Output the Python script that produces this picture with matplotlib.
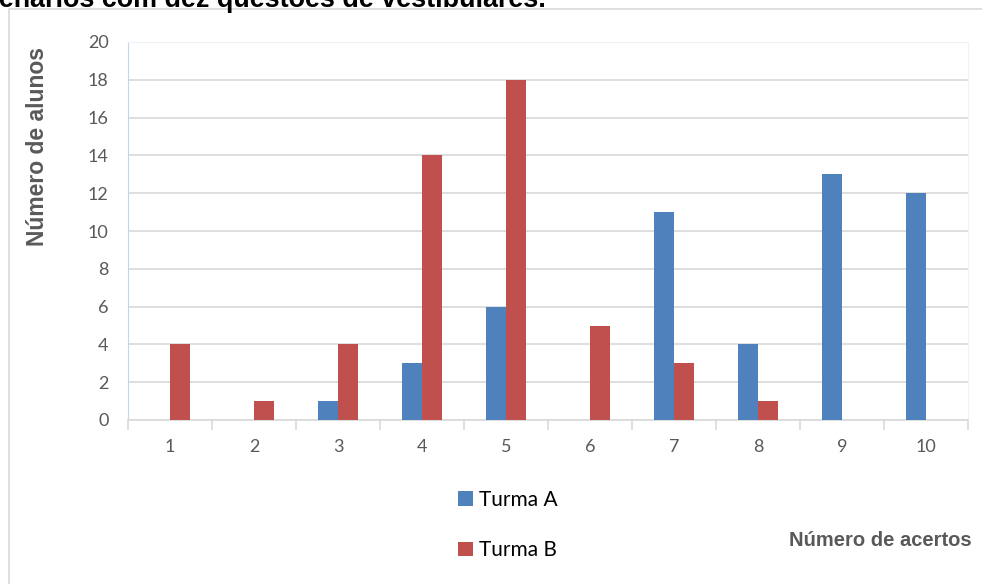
import numpy as np
import matplotlib.pyplot as plt
from matplotlib.patches import Rectangle

# número de acertos (1 a 10) e alunos por turma
acertos = ['1', '2', '3', '4', '5', '6', '7', '8', '9', '10']
turma_a = [0, 0, 1, 3, 6, 0, 11, 4, 13, 12]
turma_b = [4, 1, 4, 14, 18, 5, 3, 1, 0, 0]

cor_a = '#4F81BD'
cor_b = '#C0504D'
cinza = '#595959'

W, H = 982, 584
fig = plt.figure(figsize=(W / 100, H / 100), dpi=100)

# moldura do gráfico
fig.patches.append(Rectangle((9 / W, -0.1), (W + 20) / W, 1 - 9 / H + 0.1,
                             transform=fig.transFigure, fill=False,
                             edgecolor='#D9D9D9', linewidth=1.2))

# título cortado no topo
fig.text(-16 / W, 1 - 7 / H, 'cenários com dez questões de vestibulares.',
         fontsize=19.4, fontweight='bold', family='Liberation Sans',
         va='baseline', ha='left', color='black')

ax = fig.add_axes([128 / W, (H - 420) / H, 840 / W, 378 / H])
x = np.arange(len(acertos))
w = 0.238
ax.bar(x - w / 2, turma_a, w, color=cor_a, label='Turma A', zorder=3)
ax.bar(x + w / 2, turma_b, w, color=cor_b, label='Turma B', zorder=3)

ax.set_xlim(-0.5, len(acertos) - 0.5)
ax.set_ylim(0, 20)
ax.set_yticks(range(0, 21, 2))
ax.yaxis.grid(True, color='#D9D9D9', linewidth=1.2, zorder=0)
ax.set_xticks(x)
ax.set_xticklabels(acertos)
ax.set_xticks(np.arange(-0.5, len(acertos), 1), minor=True)
ax.tick_params(axis='x', which='major', length=0, pad=14, labelsize=13,
               labelcolor=cinza)
ax.tick_params(axis='x', which='minor', length=7, color='#D9D9D9', width=1.2)
ax.tick_params(axis='y', length=0, pad=14, labelsize=13, labelcolor=cinza)
for lab in ax.get_xticklabels() + ax.get_yticklabels():
    lab.set_family('Lato')

for s in ['top', 'right']:
    ax.spines[s].set_color('#EEF2F8')
ax.spines['left'].set_color('#C6D5EA')
ax.spines['bottom'].set_color('#D9D9D9')
ax.spines['bottom'].set_linewidth(1.2)

fig.text(38 / W, 1 - 146 / H, 'Número de alunos', rotation=90,
         fontsize=16.5, fontweight='bold', family='Liberation Sans',
         color=cinza, ha='center', va='center')
fig.text(972 / W, 1 - 541 / H, 'Número de acertos',
         fontsize=14.5, fontweight='bold', family='Liberation Sans',
         color=cinza, ha='right', va='center')

fig.legend(loc='center left', bbox_to_anchor=(450 / W, 1 - 525 / H),
           frameon=False, prop={'family': 'Lato', 'size': 15},
           handlelength=0.7, handleheight=0.7, handletextpad=0.3,
           labelspacing=1.45, borderaxespad=0)

fig.savefig('out.png', dpi=100)
